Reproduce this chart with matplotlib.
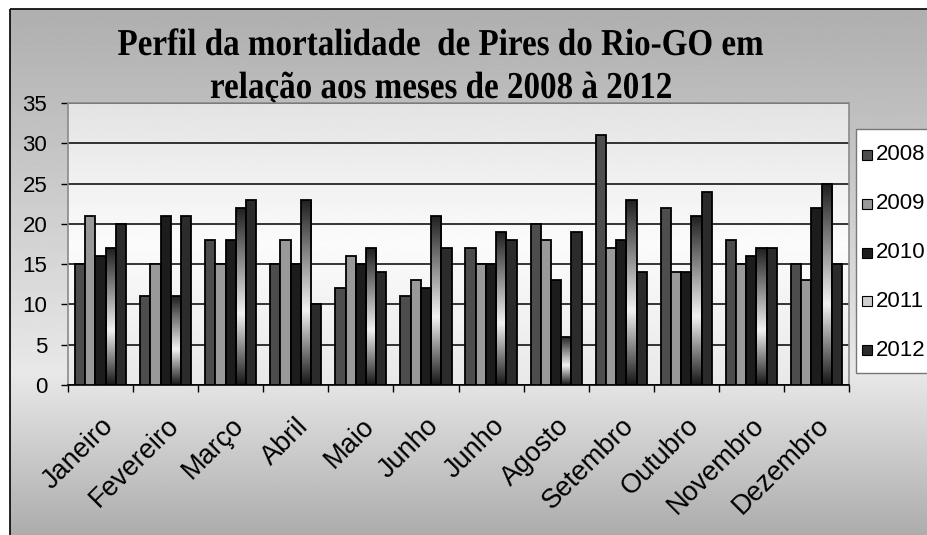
import numpy as np
import matplotlib.pyplot as plt
from matplotlib.patches import Rectangle, PathPatch
from matplotlib.colors import LinearSegmentedColormap
from matplotlib.textpath import TextPath
from matplotlib.font_manager import FontProperties
import matplotlib.transforms as mtransforms

# %% Data
months = ['Janeiro', 'Fevereiro', 'Março', 'Abril', 'Maio', 'Junho',
          'Junho', 'Agosto', 'Setembro', 'Outubro', 'Novembro', 'Dezembro']
years = ['2008', '2009', '2010', '2011', '2012']
d2008 = [15, 11, 18, 15, 12, 11, 17, 20, 31, 22, 18, 15]
d2009 = [21, 15, 15, 18, 16, 13, 15, 18, 17, 14, 15, 13]
d2010 = [16, 21, 18, 15, 15, 12, 15, 13, 18, 14, 16, 22]
d2011 = [17, 11, 22, 23, 17, 21, 19, 6, 23, 21, 17, 25]
d2012 = [20, 21, 23, 10, 14, 17, 18, 19, 14, 24, 17, 15]
series = [d2008, d2009, d2010, d2011, d2012]
colors = ['#4d4d4d', '#999999', '#1c1c1c', None, '#2b2b2b']

title_lines = ['Perfil da mortalidade  de Pires do Rio-GO em',
               'relação aos meses de 2008 à 2012']

# %% Figure and background (bg axes works in pixel units, y down)
W, H = 927, 535
fig = plt.figure(figsize=(W / 100, H / 100), dpi=100)

bg = fig.add_axes([0, 0, 1, 1], zorder=-5)
bg.set_xlim(0, W)
bg.set_ylim(H, 0)
bg.axis('off')
yy = np.arange(0, H + 10)
shade = np.interp(yy, [9, 370, 545], [0.69, 0.91, 0.66])
bg.imshow(shade.reshape(-1, 1), cmap='gray', vmin=0, vmax=1, aspect='auto',
          extent=(10, W + 20, H + 10, 9), interpolation='bilinear')
bg.add_patch(Rectangle((10, 9), W + 20, H + 20, fill=False,
                       edgecolor='black', lw=1.2))

# title: Times-like bold, a bit condensed
fp = FontProperties(family='Liberation Serif', weight='bold')
sx = None
for line, base in zip(title_lines, [55, 98]):
    tp = TextPath((0, 0), line, size=38, prop=fp)
    ext = tp.get_extents()
    if sx is None:
        sx = 645 / ext.width
    tw = ext.width * sx
    tr = mtransforms.Affine2D().scale(sx, -1).translate(440 - tw / 2, base)
    bg.add_patch(PathPatch(tr.transform_path(tp), facecolor='black', lw=0))

# %% Main axes
ax = fig.add_axes([68 / W, 1 - 385 / H, (849 - 68) / W, (385 - 103) / H])
ax.set_facecolor('none')
ax.set_xlim(0, 12)
ax.set_ylim(0, 35)

pv = np.interp(np.linspace(0, 1, 200), [0, 0.5, 1], [0.89, 0.985, 0.91])
ax.imshow(pv.reshape(-1, 1), cmap='gray', vmin=0, vmax=1, aspect='auto',
          extent=(0, 12, 0, 35), zorder=0.1, interpolation='bilinear')

ax.set_yticks(np.arange(0, 36, 5))
ax.yaxis.grid(True, color='black', lw=1.1)
ax.set_axisbelow(True)

x = np.arange(len(months)) + 0.5
w = 0.157
grad = LinearSegmentedColormap.from_list(
    'g11', [(0, '#181818'), (0.4, '#f2f2f2'), (1, '#202020')])
for i, (vals, c) in enumerate(zip(series, colors)):
    pos = x + (i - 2) * w
    if c is None:
        bars = ax.bar(pos, vals, w, facecolor='none', edgecolor='black',
                      lw=1.3, zorder=3)
        for b in bars:
            bx, by = b.get_x(), b.get_y()
            im = ax.imshow(np.linspace(0, 1, 100).reshape(-1, 1), cmap=grad,
                           aspect='auto', origin='lower',
                           extent=(bx, bx + b.get_width(), by, by + b.get_height()),
                           zorder=2.5, interpolation='bilinear')
            im.set_clip_path(b)
    else:
        ax.bar(pos, vals, w, color=c, edgecolor='black', lw=1.3, zorder=3)

# ticks
ax.set_xticks(np.arange(13))
ax.set_xticklabels([])
ax.set_xticks(x, minor=True)
ax.set_xticklabels(months, minor=True, rotation=45, ha='right', va='top',
                   rotation_mode='anchor', fontsize=19.5,
                   family='Liberation Sans')
off = mtransforms.ScaledTranslation(3 / 100, 0, fig.dpi_scale_trans)
for lbl in ax.get_xticklabels(minor=True):
    lbl.set_transform(lbl.get_transform() + off)
ax.tick_params(axis='x', which='major', length=5, width=1, color='black')
ax.tick_params(axis='x', which='minor', length=0, pad=20)
ax.tick_params(axis='y', length=5, width=1, pad=10, labelsize=16)
for lbl in ax.get_yticklabels():
    lbl.set_family('Liberation Sans')

for s in ['left', 'right', 'top']:
    ax.spines[s].set_color('#8a8a8a')
    ax.spines[s].set_linewidth(1.2)
ax.spines['bottom'].set_color('black')
ax.spines['bottom'].set_linewidth(1.2)

# legend box drawn by hand, pixel units
bg.add_patch(Rectangle((856, 129), 100, 244, facecolor='white',
                       edgecolor='#777777', lw=1.0, zorder=3))
for i, (yr, c) in enumerate(zip(years, colors)):
    yc = 155 + i * 48.75
    bg.add_patch(Rectangle((862, yc - 5), 10, 10,
                           facecolor=(c if c else '#cfcfcf'),
                           edgecolor='black', lw=0.8, zorder=4))
    bg.text(876, yc, yr, ha='left', va='center', fontsize=16,
            family='Liberation Sans', zorder=4)

fig.savefig('out.png', dpi=100)
